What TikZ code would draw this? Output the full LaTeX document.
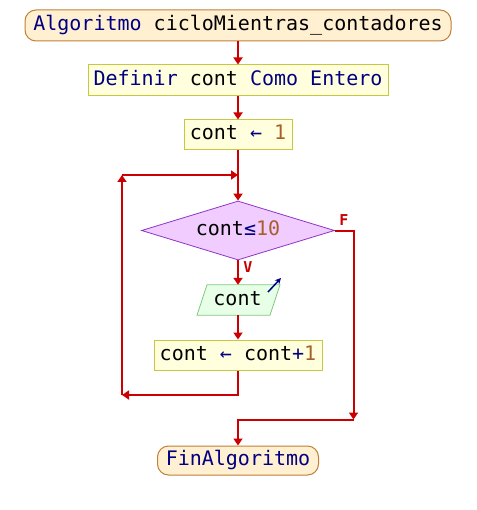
\documentclass[tikz,border=0pt]{standalone}
\usepackage{fontspec}
\setmonofont{DejaVu Sans Mono}
\usetikzlibrary{shapes.geometric,arrows.meta}
\definecolor{flowred}{HTML}{CC0000}
\definecolor{kw}{HTML}{000080}
\definecolor{num}{HTML}{A8602A}
\definecolor{termfill}{HTML}{FFF0D2}
\definecolor{termdraw}{HTML}{C08038}
\definecolor{boxfill}{HTML}{FFFFDD}
\definecolor{boxdraw}{HTML}{C8C840}
\definecolor{condfill}{HTML}{F0CCFF}
\definecolor{conddraw}{HTML}{9033C8}
\definecolor{iofill}{HTML}{E6FFE6}
\definecolor{iodraw}{HTML}{80C880}
\newcommand{\kwd}[1]{\textcolor{kw}{#1}}
\newcommand{\nmb}[1]{\textcolor{num}{#1}}
\begin{document}
\begin{tikzpicture}[x=1pt,y=-1pt,
  font=\ttfamily\fontsize{20}{24}\selectfont,
  every node/.style={inner sep=0pt, text height=14pt, text depth=4pt},
  term/.style={draw=termdraw, fill=termfill, line width=1pt, rounded corners=11pt, minimum height=30pt},
  procbox/.style={draw=boxdraw, fill=boxfill, line width=1pt, minimum height=30pt},
  condbox/.style={diamond, draw=conddraw, fill=condfill, line width=0.8pt, aspect=3.27, minimum width=193pt, minimum height=59pt},
  flow/.style={draw=flowred, line width=2pt},
  flowarrow/.style={flow, -{Triangle[length=7pt,width=9pt]}},
  lbl/.style={text=flowred, font=\ttfamily\bfseries\fontsize{15}{17}\selectfont, text height=11pt, text depth=0pt}
]
\useasboundingbox (0,0) rectangle (476,510);

\node[term, minimum width=426pt, minimum height=31pt] (start) at (238,25.5) {\kwd{Algoritmo} cicloMientras\_contadores};
\node[procbox, minimum width=300pt, minimum height=31pt] (def) at (238,80.5) {\kwd{Definir} cont \kwd{Como Entero}};
\node[procbox, minimum width=108pt] (init) at (238,135) {cont \kwd{←} \nmb{1}};
\node[condbox] (cond) at (238,230.5) {};
\node (condtxt) at (238,230.5) {cont\kwd{≤}\nmb{10}};

\node[minimum width=63pt, minimum height=30pt] (out) at (238,300) {};
\draw[draw=iodraw, fill=iofill, line width=0.8pt]
  ([xshift=-31pt]out.north) -- ([xshift=42pt]out.north) --
  ([xshift=32pt]out.south) -- ([xshift=-41pt]out.south) -- cycle;
\node (outtxt) at (237.5,300) {cont};
\draw[kw, line width=1.5pt, -{Stealth[length=6pt,width=6pt]}] (268,292) -- (281,278);

\node[procbox, minimum width=168pt] (inc) at (238,355) {cont \kwd{←} cont\kwd{+}\nmb{1}};
\node[term, minimum width=161pt, minimum height=29pt] (fin) at (238,460.5) {\kwd{FinAlgoritmo}};

\coordinate (lb) at (122,395);
\coordinate (lt) at (122,175);
\coordinate (jt) at (238,175);
\coordinate (fr) at (353.5,230.5);
\coordinate (fb) at (353.5,419.5);
\coordinate (fj) at (238,419.5);

\draw[flowarrow] (start) -- (def);
\draw[flowarrow] (def) -- (init);
\draw[flowarrow] (init) -- (cond.north);
\draw[flowarrow] (cond.south) -- (out.north);
\draw[flowarrow] (out.south) -- (inc.north);
\draw[flowarrow] (inc.south) |- (lb);
\draw[flowarrow] (lb) -- (lt);
\draw[flowarrow] (lt) -- (jt);
\draw[flowarrow] (cond.east) -- (fr) -- (fb);
\draw[flowarrow] (fb) -- (fj) -- (fin.north);

\node[lbl] (vlbl) at (248,267) {V};
\node[lbl] (flbl) at (344,220) {F};
\end{tikzpicture}
\end{document}
